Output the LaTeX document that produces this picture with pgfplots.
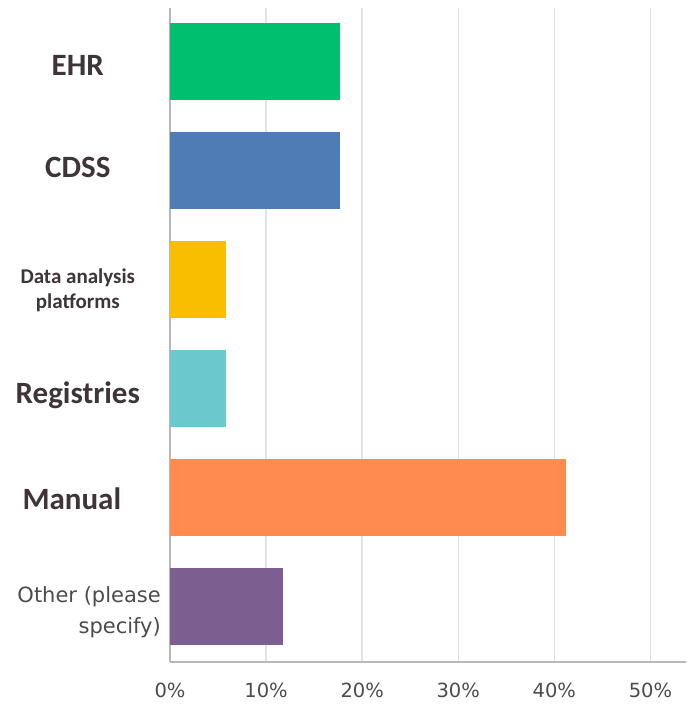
\documentclass[border=0pt]{standalone}
\usepackage{pgfplots}
\pgfplotsset{compat=1.18}
\usepackage{fontspec}
\setmainfont{DejaVu Sans}
\newfontfamily\calb{Carlito}
\definecolor{cEHR}{HTML}{00BF6F}
\definecolor{cCDSS}{HTML}{507CB6}
\definecolor{cData}{HTML}{F9BE00}
\definecolor{cReg}{HTML}{6BC8CD}
\definecolor{cMan}{HTML}{FF8B4F}
\definecolor{cOth}{HTML}{7D5E90}
\definecolor{labcol}{HTML}{3F3539}
\definecolor{tickcol}{HTML}{4C4C4C}
\newcommand{\catlab}[2]{\raisebox{#1}[0pt][0pt]{\makebox[166pt][c]{\color{labcol}\calb\bfseries\fontsize{31}{31}\selectfont #2}}}
\begin{document}
\begin{tikzpicture}
\useasboundingbox (-170pt,-42pt) rectangle (516pt,662pt);
\begin{axis}[
  at={(0pt,0pt)}, anchor=south west,
  scale only axis, width=516pt, height=654pt,
  xbar, bar width=77pt,
  xmin=0, xmax=53.7, ymin=-0.51, ymax=5.49,
  xtick={0,10,20,30,40,50},
  xticklabels={0\%,10\%,20\%,30\%,40\%,50\%},
  ytick={0,1,2,3,4,5},
  yticklabels={
    {\raisebox{-27.5pt}[0pt][0pt]{\parbox[b]{166pt}{\raggedleft\color{tickcol}\fontsize{21}{31}\selectfont Other (please\\ specify)}}},
    {\catlab{-12pt}{Manual\hspace{12pt}}},
    {\catlab{-15pt}{Registries}},
    {\raisebox{-29pt}[0pt][0pt]{\parbox[b]{166pt}{\centering\color{labcol}\calb\bfseries\fontsize{21}{24.5}\selectfont Data analysis\\ platforms}}},
    {\catlab{-7.5pt}{CDSS}},
    {\catlab{-14pt}{EHR}}
  },
  yticklabel style={anchor=east, inner sep=0pt, xshift=-9pt},
  xticklabel style={inner sep=0pt, yshift=-21pt, font=\fontsize{19.5}{19.5}\selectfont, text=tickcol},
  major tick length=0pt,
  axis lines*=left,
  axis line style={draw=black!28, line width=1.5pt, -},
  xmajorgrids,
  grid style={draw=black!11, line width=1.5pt},
]
\addplot[fill=cOth, draw=none, bar shift=0pt] coordinates {(11.76,0)};
\addplot[fill=cMan, draw=none, bar shift=0pt] coordinates {(41.18,1)};
\addplot[fill=cReg, draw=none, bar shift=0pt] coordinates {(5.88,2)};
\addplot[fill=cData, draw=none, bar shift=0pt] coordinates {(5.88,3)};
\addplot[fill=cCDSS, draw=none, bar shift=0pt] coordinates {(17.65,4)};
\addplot[fill=cEHR, draw=none, bar shift=0pt] coordinates {(17.65,5)};
\end{axis}
\end{tikzpicture}
\end{document}
